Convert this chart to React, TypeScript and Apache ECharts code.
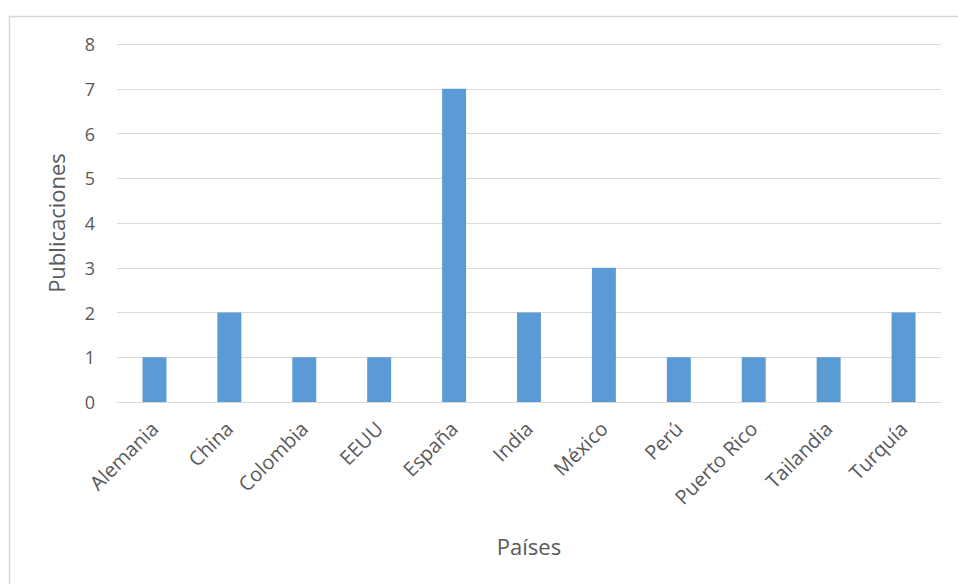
import React, { useEffect, useRef } from "react";
import * as echarts from "echarts";

const categories = ["Alemania", "China", "Colombia", "EEUU", "España", "India", "México", "Perú", "Puerto Rico", "Tailandia", "Turquía"];
const values = [1, 2, 1, 1, 7, 2, 3, 1, 1, 1, 2];
const yTicks = [0, 1, 2, 3, 4, 5, 6, 7, 8];

const FONT = "'Open Sans', 'Noto Sans', sans-serif";
const TEXT = "#595959";

export default function App() {
  const ref = useRef<HTMLDivElement>(null);
  useEffect(() => {
    if (!ref.current) return;
    const chart = echarts.init(ref.current, null, { renderer: "svg" });
    chart.setOption({
      animation: false,
      backgroundColor: "#ffffff",
      graphic: [
        {
          type: "rect",
          shape: { x: 9.5, y: 16.5, width: 960, height: 580 },
          style: { fill: "none", stroke: "#d9d9d9", lineWidth: 1.5 },
          silent: true,
        },
      ],
      grid: { left: 117, right: 17, top: 44, bottom: 182, containLabel: false },
      xAxis: {
        type: "category",
        data: categories,
        name: "Países",
        nameLocation: "middle",
        nameGap: 133,
        nameTextStyle: { fontFamily: FONT, fontSize: 22, color: TEXT },
        axisLine: { lineStyle: { color: "#d9d9d9", width: 1 } },
        axisTick: { show: false },
        axisLabel: {
          rotate: 45,
          interval: 0,
          margin: 23,
          fontFamily: FONT,
          fontSize: 20,
          color: TEXT,
        },
      },
      yAxis: {
        type: "value",
        min: 0,
        max: 8,
        interval: 1,
        name: "Publicaciones",
        nameLocation: "middle",
        nameGap: 50,
        nameTextStyle: { fontFamily: FONT, fontSize: 22, color: TEXT },
        axisLine: { show: false },
        axisTick: { show: false },
        splitLine: { lineStyle: { color: "#d9d9d9", width: 1 } },
        axisLabel: {
          margin: 22,
          fontFamily: FONT,
          fontSize: 18,
          color: TEXT,
          formatter: (v: number) => (yTicks.includes(v) ? String(v) : ""),
        },
      },
      series: [
        {
          type: "bar",
          data: values,
          barWidth: "32%",
          itemStyle: { color: "#5b9bd5" },
        },
      ],
    });
    return () => chart.dispose();
  }, []);
  return (
    <div
      ref={ref}
      style={{ position: "fixed", left: 0, top: 0, width: 958, height: 584 }}
    />
  );
}
